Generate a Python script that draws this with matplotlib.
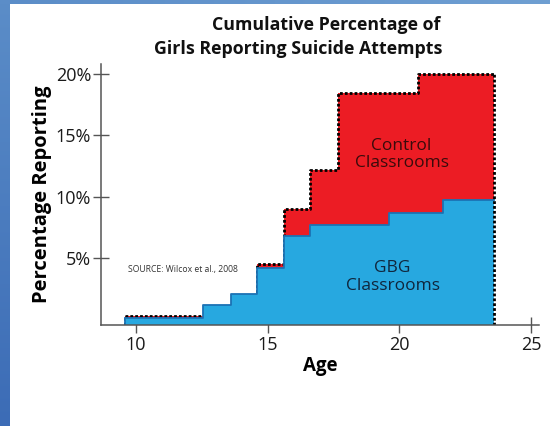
import numpy as np
import matplotlib
matplotlib.use("Agg")
import matplotlib.pyplot as plt

plt.rcParams["font.family"] = ["Open Sans", "DejaVu Sans"]

# step edges (age) and cumulative % reporting in each interval
AGE_EDGES = [9.6, 12.55, 13.6, 14.6, 15.6, 16.6, 17.65, 19.6, 20.7, 21.65, 23.6]
GBG_PCT = [0.1, 1.2, 2.1, 4.2, 6.8, 7.7, 7.7, 8.7, 8.7, 9.7]
CONTROL_PCT = [0.25, 0.25, 0.25, 4.5, 9.0, 12.2, 18.4, 18.4, 20.0, 20.0]

X_TICKS = [10, 15, 20, 25]
Y_TICKS = [5, 10, 15, 20]
Y_TICK_LABELS = ["5%", "10%", "15%", "20%"]

RED = "#ec1c24"
BLUE = "#27a8e0"
BLUE_EDGE = "#1b72b4"
DOTS = (0, (1.0, 0.75))

fig = plt.figure(figsize=(5.5, 4.26), dpi=100, facecolor="white")

# blue frame on the left and top, as in the slide
grad = np.linspace(0, 1, 256).reshape(-1, 1)
frame = fig.add_axes([0, 0, 10 / 550, 1])
frame.imshow(grad, aspect="auto", cmap=matplotlib.colors.LinearSegmentedColormap.from_list(
    "f", ["#5b8dc8", "#3c6cb6"]), extent=[0, 1, 0, 1])
frame.axis("off")
top = fig.add_axes([0, 1 - 4 / 426, 1, 4 / 426])
top.imshow(grad.T, aspect="auto", cmap=matplotlib.colors.LinearSegmentedColormap.from_list(
    "t", ["#5b8dc8", "#6f9fd2"]), extent=[0, 1, 0, 1])
top.axis("off")

ax = fig.add_axes([101 / 550, 101 / 426, 438 / 550, 261 / 426])
ax.set_xlim(8.67, 25.3)
ax.set_ylim(-0.45, 20.8)
base = ax.get_ylim()[0]

x = np.array(AGE_EDGES)
ctrl = np.array(CONTROL_PCT + [CONTROL_PCT[-1]])
gbg = np.array(GBG_PCT + [GBG_PCT[-1]])

ax.fill_between(x, base, ctrl, step="post", color=RED, lw=0, zorder=3)
ax.step(x, ctrl, where="post", color="black", lw=2.0,
        linestyle=DOTS, dash_capstyle="butt", zorder=3.2)
ax.vlines(x[0], base, ctrl[0], color="black", lw=2.0, linestyle=DOTS, zorder=3.2)
ax.fill_between(x, base, gbg, step="post", color=BLUE, lw=0, zorder=3.5)
ax.step(x, gbg, where="post", color=BLUE_EDGE, lw=1.3, zorder=3.6)
ax.vlines(x[0], base, gbg[0], color=BLUE_EDGE, lw=1.3, zorder=3.6)
# dotted right edge over both areas
ax.vlines(x[-1], base, ctrl[-1], color="black", lw=2.0, linestyle=DOTS, zorder=4)

for side in ["top", "right"]:
    ax.spines[side].set_visible(False)
for side in ["left", "bottom"]:
    ax.spines[side].set_color("#555555")
    ax.spines[side].set_linewidth(1.1)
    ax.spines[side].set_zorder(5)

ax.set_xticks(X_TICKS)
ax.set_yticks(Y_TICKS)
ax.set_yticklabels(Y_TICK_LABELS)
ax.tick_params(axis="both", direction="inout", length=12, width=1.0,
               color="#555555", labelsize=13, labelcolor="#1a1a1a")
ax.tick_params(axis="y", pad=1)
ax.tick_params(axis="x", pad=2)

ax.set_xlabel("Age", fontsize=13.5, fontweight="bold", labelpad=1)
ax.set_ylabel("Percentage Reporting", fontsize=14.5, fontweight="bold", labelpad=3)

ax.text(20.08, 13.4, "Control\nClassrooms", ha="center", va="center",
        fontsize=12.5, color="#3a0b0b", linespacing=1.1, zorder=6)
ax.text(19.74, 3.45, "GBG\nClassrooms", ha="center", va="center",
        fontsize=12.5, color="#10263d", linespacing=1.1, zorder=6)
ax.text(9.7, 4.1, "SOURCE: Wilcox et al., 2008", ha="left", va="center",
        fontsize=6.2, color="#333333", zorder=6)

fig.text(326 / 550, 1 - 25 / 426, "Cumulative Percentage of", ha="center",
         va="center", fontsize=12.8, fontweight="bold", color="#111111")
fig.text(298 / 550, 1 - 49 / 426, "Girls Reporting Suicide Attempts", ha="center",
         va="center", fontsize=12.8, fontweight="bold", color="#111111")

fig.savefig("out.png", dpi=100, facecolor="white")
